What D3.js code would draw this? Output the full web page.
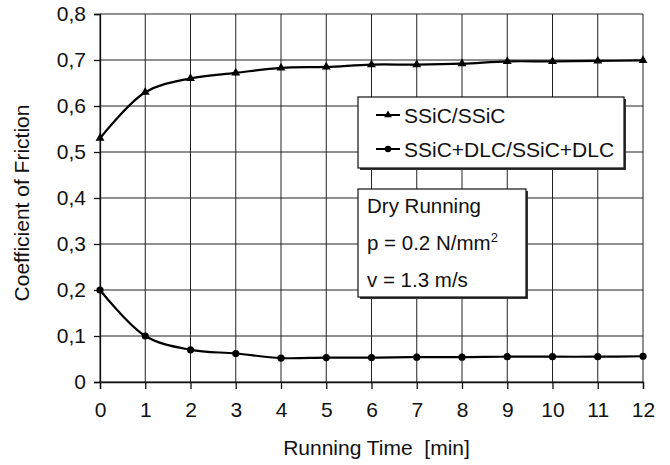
<!DOCTYPE html>
<html><head><meta charset="utf-8">
<script src="https://cdn.jsdelivr.net/npm/d3@7"></script>
<style>body{margin:0;background:#fff}text{font-family:"Liberation Sans",Arial,sans-serif;fill:#111;white-space:pre}</style>
</head><body><svg id="c" width="670" height="465"></svg>
<script>
const times = [0,1,2,3,4,5,6,7,8,9,10,11,12];
const ssic = [0.53,0.63,0.66,0.672,0.683,0.685,0.69,0.69,0.692,0.697,0.697,0.698,0.699];
const dlc = [0.2,0.1,0.07,0.062,0.052,0.053,0.053,0.054,0.054,0.055,0.055,0.055,0.056];
const yTicks = [0,0.1,0.2,0.3,0.4,0.5,0.6,0.7,0.8];
const yTickLabels = ["0","0,1","0,2","0,3","0,4","0,5","0,6","0,7","0,8"];
const seriesNames = ["SSiC/SSiC","SSiC+DLC/SSiC+DLC"];
const infoLines = ["Dry Running","p = 0.2 N/mm","v = 1.3 m/s"];
const xTitle = "Running Time  [min]";
const yTitle = "Coefficient of Friction";

const FS = 21;
const svg = d3.select("#c");
const x = d3.scaleLinear().domain([0,12]).range([100,643]);
const y = d3.scaleLinear().domain([0,0.8]).range([382,14]);

// grid
const g = svg.append("g");
g.selectAll(".vg").data(times).join("line")
  .attr("x1",d=>x(d)).attr("x2",d=>x(d)).attr("y1",y(0.8)).attr("y2",y(0))
  .attr("stroke","#222").attr("stroke-width",1);
g.selectAll(".hg").data(yTicks).join("line")
  .attr("x1",x(0)).attr("x2",x(12)).attr("y1",d=>y(d)).attr("y2",d=>y(d))
  .attr("stroke","#222").attr("stroke-width",1);

// axes
const yAxis = d3.axisLeft(y).tickValues(yTicks).tickFormat((d,i)=>yTickLabels[i]).tickSize(6).tickPadding(8);
const ya = svg.append("g").attr("transform",`translate(${x(0)},0)`).call(yAxis);
const xAxis = d3.axisBottom(x).tickValues(times).tickFormat(d3.format("d")).tickSize(7).tickPadding(13);
const xa = svg.append("g").attr("transform",`translate(0,${y(0)})`).call(xAxis);
[ya,xa].forEach(a=>{
  a.select(".domain").attr("stroke","#111").attr("stroke-width",1.3);
  a.selectAll(".tick line").attr("stroke","#111").attr("stroke-width",1.3);
  a.selectAll("text").attr("font-size",FS).attr("font-family","Liberation Sans, Arial, sans-serif").attr("fill","#111");
});

// titles
svg.append("text").attr("x",(x(0)+x(12))/2+5).attr("y",455).attr("text-anchor","middle").attr("font-size",FS).text(xTitle);
svg.append("text").attr("transform","translate(29,203) rotate(-90)").attr("text-anchor","middle").attr("font-size",FS).text(yTitle);

// lines
const line = d3.line().x((d,i)=>x(times[i])).y(d=>y(d)).curve(d3.curveCatmullRom.alpha(0.5));
svg.append("path").datum(ssic).attr("d",line).attr("fill","none").attr("stroke","#000").attr("stroke-width",2.2);
svg.append("path").datum(dlc).attr("d",line).attr("fill","none").attr("stroke","#000").attr("stroke-width",2.2);
const tri = d3.symbol().type(d3.symbolTriangle).size(34);
svg.selectAll(".t").data(ssic).join("path").attr("d",tri)
  .attr("transform",(d,i)=>`translate(${x(times[i])},${y(d)})`).attr("fill","#000");
svg.selectAll(".c").data(dlc).join("circle")
  .attr("cx",(d,i)=>x(times[i])).attr("cy",d=>y(d)).attr("r",3.6).attr("fill","#000");

// legend
function box(x0,y0,w,h){
  svg.append("rect").attr("x",x0+2).attr("y",y0+2).attr("width",w).attr("height",h).attr("fill","#333");
  svg.append("rect").attr("x",x0).attr("y",y0).attr("width",w).attr("height",h).attr("fill","#fff").attr("stroke","#111").attr("stroke-width",1.2);
}
box(358,97,266,71);
const lg = svg.append("g");
seriesNames.forEach((n,i)=>{
  const cy = 115 + i*34;
  lg.append("line").attr("x1",376).attr("x2",400).attr("y1",cy).attr("y2",cy).attr("stroke","#000").attr("stroke-width",2);
  if(i===0) lg.append("path").attr("d",d3.symbol().type(d3.symbolTriangle).size(26)()).attr("transform",`translate(388,${cy})`).attr("fill","#000");
  else lg.append("circle").attr("cx",388).attr("cy",cy).attr("r",3.2).attr("fill","#000");
  lg.append("text").attr("x",404).attr("y",cy+7.5).attr("font-size",FS).text(n);
});

// info box
box(358,189,168,108);
infoLines.forEach((t,i)=>{
  const tx = svg.append("text").attr("x",367).attr("y",213+i*37).attr("font-size",20.5).text(t);
  if(i===1) tx.append("tspan").attr("dy",-8).attr("font-size",13).text("2");
});
</script></body></html>
